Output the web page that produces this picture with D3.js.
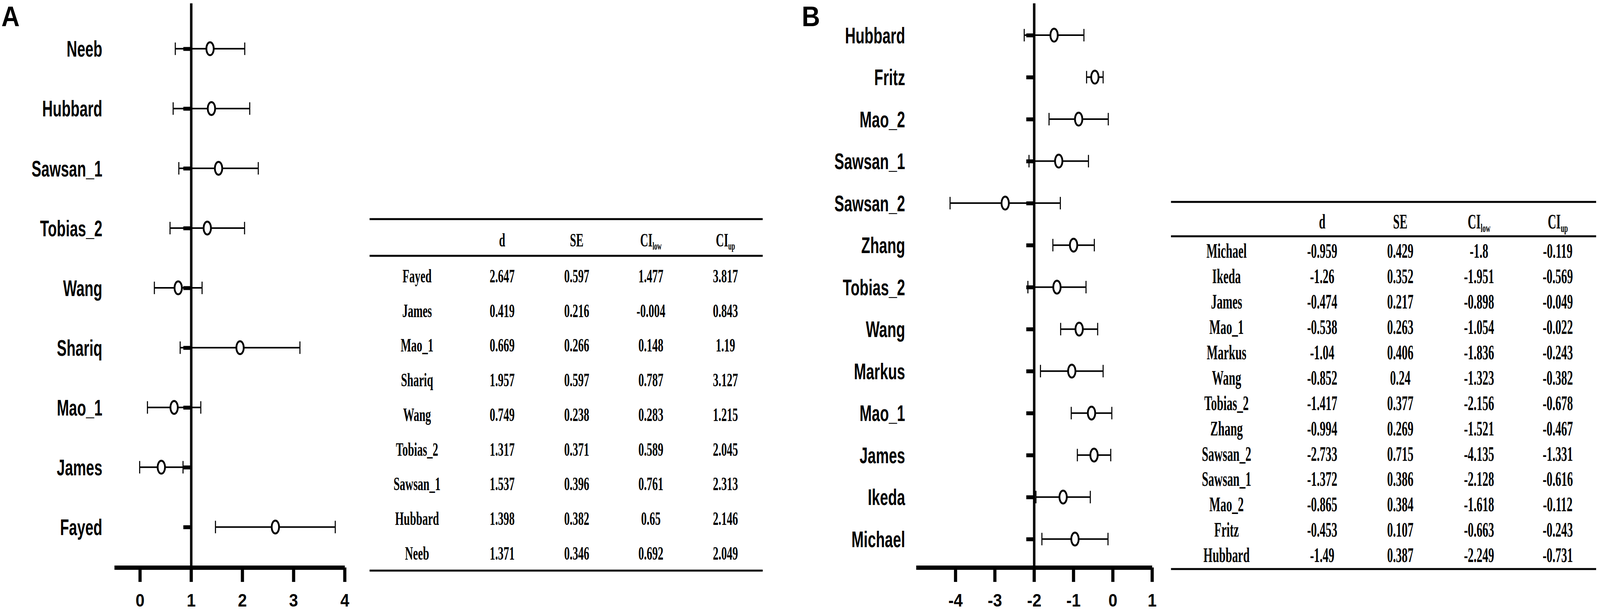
<!DOCTYPE html>
<html lang="en">
<head>
<meta charset="utf-8">
<script src="https://d3js.org/d3.v7.min.js"></script>
<title>Forest plots A and B</title>
<style>
  html, body { margin: 0; padding: 0; background: #fff; overflow: hidden; }
</style>
</head>
<body>
<script>
var width = 4550, height = 1567;

// ---- panel A data (table order) ----
var studiesA = ['Fayed', 'James', 'Mao_1', 'Shariq', 'Wang', 'Tobias_2', 'Sawsan_1', 'Hubbard', 'Neeb'];
var dA   = [2.647, 0.419, 0.669, 1.957, 0.749, 1.317, 1.537, 1.398, 1.371];
var seA  = [0.597, 0.216, 0.266, 0.597, 0.238, 0.371, 0.396, 0.382, 0.346];
var lowA = [1.477, -0.004, 0.148, 0.787, 0.283, 0.589, 0.761, 0.65, 0.692];
var upA  = [3.817, 0.843, 1.19, 3.127, 1.215, 2.045, 2.313, 2.146, 2.049];
var ticksA = [0, 1, 2, 3, 4];

// ---- panel B data (table order) ----
var studiesB = ['Michael', 'Ikeda', 'James', 'Mao_1', 'Markus', 'Wang', 'Tobias_2', 'Zhang', 'Sawsan_2', 'Sawsan_1', 'Mao_2', 'Fritz', 'Hubbard'];
var dB   = [-0.959, -1.26, -0.474, -0.538, -1.04, -0.852, -1.417, -0.994, -2.733, -1.372, -0.865, -0.453, -1.49];
var seB  = [0.429, 0.352, 0.217, 0.263, 0.406, 0.24, 0.377, 0.269, 0.715, 0.386, 0.384, 0.107, 0.387];
var lowB = [-1.8, -1.951, -0.898, -1.054, -1.836, -1.323, -2.156, -1.521, -4.135, -2.128, -1.618, -0.663, -2.249];
var upB  = [-0.119, -0.569, -0.049, -0.022, -0.243, -0.382, -0.678, -0.467, -1.331, -0.616, -0.112, -0.243, -0.731];
var ticksB = [-4, -3, -2, -1, 0, 1];

var headers = ['', 'd', 'SE', 'CI|low', 'CI|up'];

var sans = "'Liberation Sans', Arial, sans-serif";
var serif = "'Liberation Serif', 'Times New Roman', serif";

// drawn in 4550x1567 units, stretched to whatever the window is
var svg = d3.select('body')
  .append('svg')
  .attr('viewBox', '0 0 ' + width + ' ' + height)
  .attr('preserveAspectRatio', 'none')
  .style('width', '100vw')
  .style('height', '100vh')
  .style('display', 'block');

svg.append('rect').attr('width', width).attr('height', height).attr('fill', '#fff');

// forest plot: one row per study, circle at d, whiskers from CI low to CI up
function forest(o) {
  var rows = o.studies.map(function(s, i) {
    return {name: s, d: o.d[i], low: o.low[i], up: o.up[i]};
  });

  var x = d3.scaleLinear().domain(o.xDomain).range(o.xRange);
  var y = d3.scalePoint()
    .domain(o.studies.slice().reverse())   // plotted top-down, reversed from the table
    .range([8, 1453])
    .padding(0.72)
    .align(0.53);

  var g = svg.append('g');

  // x axis
  var xa = g.append('g')
    .attr('transform', 'translate(0,1453)')
    .call(d3.axisBottom(x)
      .tickValues(o.ticks)
      .tickSize(37)
      .tickSizeOuter(0)
      .tickPadding(30)
      .tickFormat(function(d) { return String(d); }));
  xa.select('.domain').attr('stroke-width', 11);
  xa.selectAll('.tick line').attr('stroke-width', 9);
  xa.selectAll('.tick text')
    .attr('font-family', sans)
    .attr('font-weight', 'bold')
    .attr('font-size', 46)
    .attr('fill', '#000');

  // vertical axis at the reference value
  var ya = g.append('g')
    .attr('transform', 'translate(' + x(o.ref) + ',0)')
    .call(d3.axisLeft(y).tickSize(22).tickSizeOuter(0).tickFormat(''));
  ya.select('.domain').attr('stroke-width', 7);
  ya.selectAll('.tick line').attr('stroke-width', 10);

  // study labels
  g.selectAll('.lab')
    .data(rows)
    .join('text')
    .attr('class', 'lab')
    .attr('transform', function(r) { return 'translate(' + o.labelX + ',' + y(r.name) + ') scale(0.73,1)'; })
    .attr('text-anchor', 'end')
    .attr('dy', '0.36em')
    .attr('font-family', sans)
    .attr('font-weight', 'bold')
    .attr('font-size', 57)
    .text(function(r) { return r.name; });

  // whiskers
  g.selectAll('.ci')
    .data(rows)
    .join('line')
    .attr('class', 'ci')
    .attr('x1', function(r) { return x(r.low); })
    .attr('x2', function(r) { return x(r.up); })
    .attr('y1', function(r) { return y(r.name); })
    .attr('y2', function(r) { return y(r.name); })
    .attr('stroke', '#000')
    .attr('stroke-width', 4);

  ['low', 'up'].forEach(function(k) {
    g.selectAll('.cap-' + k)
      .data(rows)
      .join('line')
      .attr('class', 'cap-' + k)
      .attr('x1', function(r) { return x(r[k]); })
      .attr('x2', function(r) { return x(r[k]); })
      .attr('y1', function(r) { return y(r.name) - 16; })
      .attr('y2', function(r) { return y(r.name) + 16; })
      .attr('stroke', '#000')
      .attr('stroke-width', 3);
  });

  // point estimates
  g.selectAll('.pt')
    .data(rows)
    .join('ellipse')
    .attr('class', 'pt')
    .attr('cx', function(r) { return x(r.d); })
    .attr('cy', function(r) { return y(r.name); })
    .attr('rx', 10.5)
    .attr('ry', 16.5)
    .attr('fill', '#fff')
    .attr('stroke', '#000')
    .attr('stroke-width', 5);

  // panel letter
  svg.append('text')
    .attr('x', o.letterX)
    .attr('y', 67)
    .attr('font-family', sans)
    .attr('font-weight', 'bold')
    .attr('font-size', 72)
    .text(o.letter);
}

// three-line table of the same values
function table(o) {
  var g = svg.append('g');
  var cols = [o.studies, o.d, o.se, o.low, o.up];
  var ry = d3.scalePoint().domain(d3.range(o.studies.length)).range([o.rowTop, o.rowBottom]);

  [o.top, o.headRule, o.bottom].forEach(function(yy) {
    g.append('line')
      .attr('x1', o.x0).attr('x2', o.x1)
      .attr('y1', yy).attr('y2', yy)
      .attr('stroke', '#000')
      .attr('stroke-width', 5);
  });

  // header
  headers.forEach(function(h, j) {
    if (!h) return;
    var parts = h.split('|');
    var t = g.append('text')
      .attr('transform', 'translate(' + o.colX[j] + ',' + o.headY + ') scale(' + o.sx + ',1)')
      .attr('text-anchor', 'middle')
      .attr('dy', '0.35em')
      .attr('font-family', serif)
      .attr('font-weight', 'bold')
      .attr('font-size', o.fs);
    t.append('tspan').text(parts[0]);
    if (parts[1]) {
      t.append('tspan')
        .attr('font-size', o.fs * 0.55)
        .attr('dy', '0.3em')
        .text(parts[1]);
    }
  });

  // body cells
  cols.forEach(function(col, j) {
    g.selectAll('.c' + j)
      .data(col)
      .join('text')
      .attr('class', 'c' + j)
      .attr('transform', function(v, i) { return 'translate(' + o.colX[j] + ',' + ry(i) + ') scale(' + o.sx + ',1)'; })
      .attr('text-anchor', 'middle')
      .attr('dy', '0.35em')
      .attr('font-family', serif)
      .attr('font-weight', 'bold')
      .attr('font-size', o.fs)
      .text(function(v) { return String(v); });
  });
}

forest({studies: studiesA, d: dA, low: lowA, up: upA,
  xDomain: [-0.5, 4], xRange: [325, 980], ticks: ticksA, ref: 1,
  labelX: 291, letter: 'A', letterX: 4});

forest({studies: studiesB, d: dB, low: lowB, up: upB,
  xDomain: [-5, 1], xRange: [2605, 3276], ticks: ticksB, ref: -2,
  labelX: 2574, letter: 'B', letterX: 2280});

table({studies: studiesA, d: dA, se: seA, low: lowA, up: upA,
  x0: 1051, x1: 2169, top: 561, headY: 614, headRule: 655, bottom: 1461,
  rowTop: 706, rowBottom: 1416, colX: [1186, 1428, 1640, 1851, 2063], fs: 48, sx: 0.66});

table({studies: studiesB, d: dB, se: seB, low: lowB, up: upB,
  x0: 3330, x1: 4539, top: 517, headY: 567, headRule: 605, bottom: 1457,
  rowTop: 642, rowBottom: 1421, colX: [3488, 3760, 3982, 4206, 4430], fs: 52, sx: 0.64});
</script>
</body>
</html>
